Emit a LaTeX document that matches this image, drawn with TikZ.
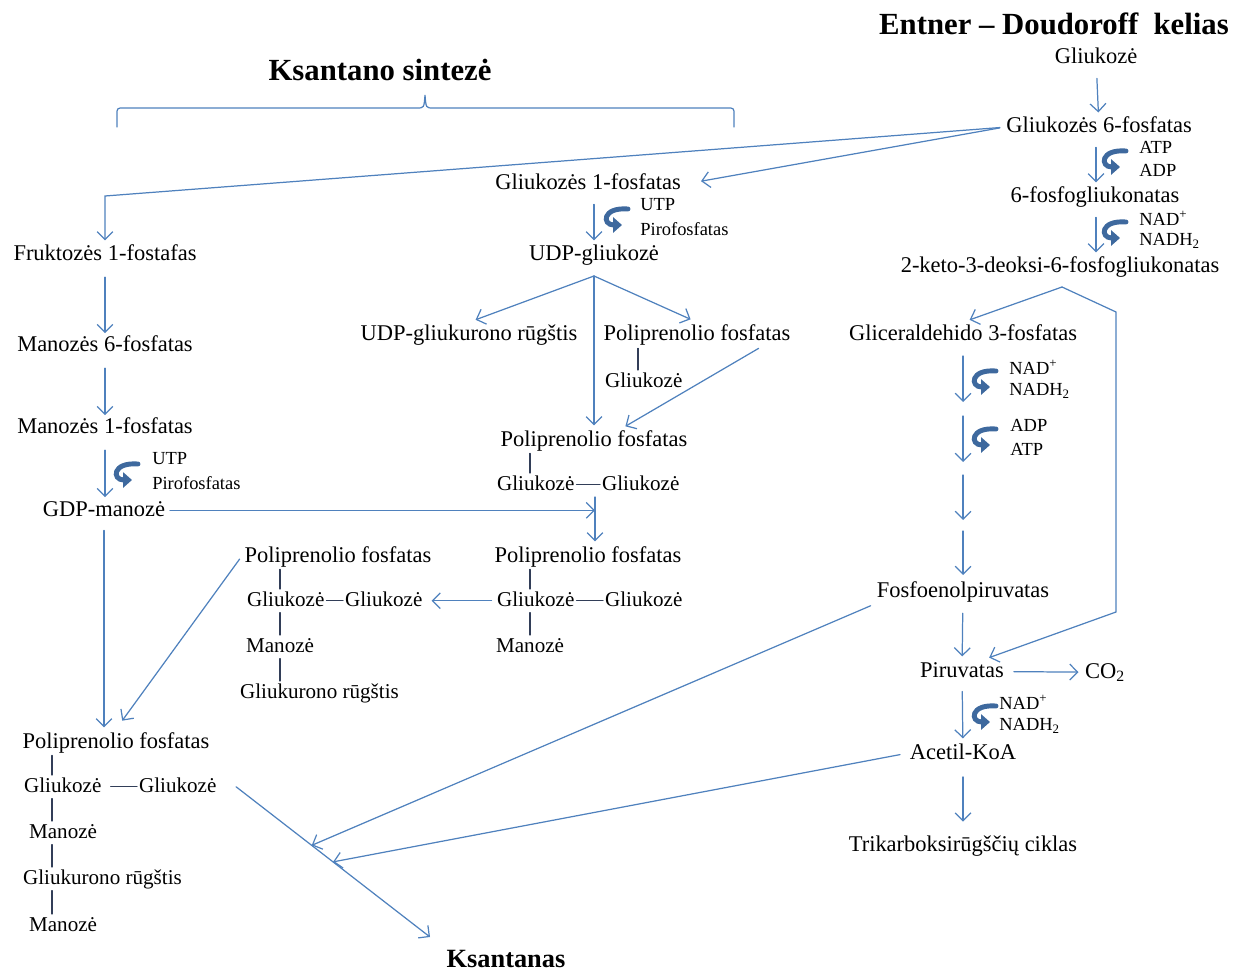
\documentclass[tikz,border=0pt]{standalone}
\usepackage{fontspec}
\setmainfont{Liberation Serif}
\usetikzlibrary{arrows.meta}
\definecolor{pathblue}{RGB}{79,129,189}
\definecolor{turnblue}{RGB}{62,105,158}
\definecolor{bondgray}{RGB}{50,62,88}
\begin{document}
\begin{tikzpicture}[x=0.02cm,y=-0.02cm,line cap=round,
  mn/.style={font=\fontsize{12.8}{15}\selectfont,inner sep=1.5pt,text height=9pt,text depth=2.5pt,yshift=-1.3pt},
  ch/.style={font=\fontsize{12}{14}\selectfont,inner sep=1pt,text height=8.5pt,text depth=2.5pt,anchor=west,yshift=-1pt},
  sm/.style={font=\fontsize{10.5}{12}\selectfont,inner sep=0pt,anchor=west},
  ttl/.style={font=\fontsize{17.5}{20}\bfseries\selectfont},
  arr/.style={draw=pathblue,line width=0.7pt,-{Straight Barb[length=4.5pt,width=9pt]},shorten <=4pt,shorten >=1pt},
  bond/.style={draw=bondgray,line width=0.6pt},
  brc/.style={draw=pathblue,line width=0.7pt},
  turn/.pic={\draw[turnblue,line width=2.8pt,-{Triangle[length=5pt,width=8.5pt]}] (11,-9) .. controls (-15,-11) and (-15,7) .. (5,7);}]
  \useasboundingbox (0,0) rectangle (1239,973);

  \node[ttl] (edt) at (1054,24) {Entner – Doudoroff~~kelias};
  \node[ttl] (kst) at (380,70) {Ksantano sintezė};
  \node[font=\fontsize{15}{18}\bfseries\selectfont,inner sep=1pt] (ksa) at (506,959) {Ksantanas};
  \draw[brc] (117,127) -- (117,115) .. controls (117,108) .. (124,108) -- (417,108)
    .. controls (424,108) .. (425,95) .. controls (426,108) .. (433,108) -- (727,108)
    .. controls (734,108) .. (734,115) -- (734,127);

  \node[mn] (glc) at (1096,56) {Gliukozė};
  \node[mn] (g6p) at (1099,125) {Gliukozės 6-fosfatas};
  \node[mn] (pg6) at (1095,195) {6-fosfogliukonatas};
  \node[mn] (kdpg) at (1060,265) {2-keto-3-deoksi-6-fosfogliukonatas};
  \node[mn] (gap) at (963,333) {Gliceraldehido 3-fosfatas};
  \node[mn] (pep) at (963,589) {Fosfoenolpiruvatas};
  \node[mn] (pyr) at (962,669) {Piruvatas};
  \node[mn] (co2) at (1105,670) {CO\textsubscript{2}};
  \node[mn] (aca) at (963,751) {Acetil-KoA};
  \node[mn] (tca) at (963,843) {Trikarboksirūgščių ciklas};

  \node[sm] (atp1) at (1139,147) {ATP};
  \node[sm] (adp1) at (1139,170) {ADP};
  \node[sm] (nad1) at (1139,218) {NAD\textsuperscript{+}};
  \node[sm] (nadh1) at (1139,241) {NADH\textsubscript{2}};
  \node[sm] (nad2) at (1009,367) {NAD\textsuperscript{+}};
  \node[sm] (nadh2) at (1009,391) {NADH\textsubscript{2}};
  \node[sm] (adp2) at (1010,425) {ADP};
  \node[sm] (atp2) at (1010,449) {ATP};
  \node[sm] (nad3) at (999,702) {NAD\textsuperscript{+}};
  \node[sm] (nadh3) at (999,726) {NADH\textsubscript{2}};
  \node[sm] (utp1) at (640,205) {UTP};
  \node[sm] (ppi1) at (640,229) {Pirofosfatas};
  \node[sm] (utp2) at (152,459) {UTP};
  \node[sm] (ppi2) at (152,483) {Pirofosfatas};
  \foreach \p in {(1115,160),(1115,231),(985,380),(985,438),(985,715),(617,218),(127,473)}
    \pic at \p {turn};

  \node[mn] (g1p) at (588,182) {Gliukozės 1-fosfatas};
  \node[mn] (udpg) at (594,253) {UDP-gliukozė};
  \node[mn] (udpga) at (469,333) {UDP-gliukurono rūgštis};
  \node[mn] (pp1) at (697,333) {Poliprenolio fosfatas};
  \node[ch] (pp1a) at (603,380) {Gliukozė};
  \node[mn] (pp2) at (594,438) {Poliprenolio fosfatas};
  \node[ch] (pp2a) at (495,483) {Gliukozė};
  \node[ch] (pp2b) at (600,483) {Gliukozė};
  \node[mn] (pp3) at (588,554) {Poliprenolio fosfatas};
  \node[ch] (pp3a) at (495,599) {Gliukozė};
  \node[ch] (pp3b) at (603,599) {Gliukozė};
  \node[ch] (pp3m) at (494,645) {Manozė};
  \node[mn] (pp4) at (338,554) {Poliprenolio fosfatas};
  \node[ch] (pp4a) at (245,599) {Gliukozė};
  \node[ch] (pp4b) at (343,599) {Gliukozė};
  \node[ch] (pp4m) at (244,645) {Manozė};
  \node[ch] (pp4u) at (238,691) {Gliukurono rūgštis};

  \node[mn] (fru) at (105,253) {Fruktozės 1-fostafas};
  \node[mn] (m6p) at (105,344) {Manozės 6-fosfatas};
  \node[mn] (m1p) at (105,426) {Manozės 1-fosfatas};
  \node[mn] (gdpm) at (104,508) {GDP-manozė};
  \node[mn] (pp5) at (116,740) {Poliprenolio fosfatas};
  \node[ch] (pp5a) at (22,785) {Gliukozė};
  \node[ch] (pp5b) at (137,785) {Gliukozė};
  \node[ch] (pp5m) at (27,831) {Manozė};
  \node[ch] (pp5u) at (21,877) {Gliukurono rūgštis};
  \node[ch] (pp5n) at (27,924) {Manozė};

  \coordinate (sp1) at (638,0);
  \coordinate (sp2) at (530,0);
  \coordinate (sp4) at (280,0);
  \coordinate (sp5) at (52,0);
  \draw[bond] (pp1.south -| sp1) -- (pp1a.north -| sp1);
  \draw[bond] (pp2.south -| sp2) -- (pp2a.north -| sp2);
  \draw[bond] (pp2a.east) -- (pp2b.west);
  \draw[bond] (pp3.south -| sp2) -- (pp3a.north -| sp2);
  \draw[bond] (pp3a.east) -- (pp3b.west);
  \draw[bond] (pp3a.south -| sp2) -- (pp3m.north -| sp2);
  \draw[bond] (pp4.south -| sp4) -- (pp4a.north -| sp4);
  \draw[bond] (pp4a.east) -- (pp4b.west);
  \draw[bond] (pp4a.south -| sp4) -- (pp4m.north -| sp4);
  \draw[bond] (pp4m.south -| sp4) -- (pp4u.north -| sp4);
  \draw[bond] (pp5.south -| sp5) -- (pp5a.north -| sp5);
  \draw[bond,shorten <=4pt] (pp5a.east) -- (pp5b.west);
  \draw[bond] (pp5a.south -| sp5) -- (pp5m.north -| sp5);
  \draw[bond] (pp5m.south -| sp5) -- (pp5u.north -| sp5);
  \draw[bond] (pp5u.south -| sp5) -- (pp5n.north -| sp5);

  \draw[arr] (glc) -- (g6p);
  \draw[arr] (g6p.south -| glc) -- (pg6.north -| glc);
  \draw[arr] (pg6.south -| glc) -- (kdpg.north -| glc);
  \coordinate (kb) at (1062,287);
  \coordinate (kr) at (1116,312);
  \coordinate (kd) at (1116,612);
  \draw[arr,shorten <=0pt,shorten >=4pt] (kb) -- (gap.north);
  \draw[arr,shorten <=0pt] (kb) -- (kr) -- (kd) -- ([xshift=-11pt]pyr.north east);
  \foreach \a/\b [count=\n] in {356/402,416/462,475/520,531/575} {
    \coordinate (gs\n) at (963,\a);
    \coordinate (ge\n) at (963,\b);
    \draw[arr,shorten <=0pt,shorten >=0pt] (gs\n) -- (ge\n);
  }
  \draw[arr,shorten <=5pt] (pep) -- (pyr);
  \draw[arr,shorten <=4pt,shorten >=2pt] (pyr) -- (co2);
  \draw[arr] (pyr) -- (aca);
  \draw[arr,shorten <=6pt,shorten >=6pt] (aca) -- (tca);

  \draw[arr,shorten <=2pt,shorten >=10pt] (g6p.west) -- (g1p.east);
  \coordinate (fc) at (105,196);
  \draw[arr,shorten <=2pt] (g6p.west) -- (fc) -- (fru.north);
  \draw[arr] (g1p.south -| udpg) -- (udpg);
  \coordinate (ub) at (594,276);
  \draw[arr,shorten <=0pt,shorten >=4pt] (ub) -- (udpga.north);
  \draw[arr,shorten <=0pt,shorten >=4pt] (ub) -- (pp1.north);
  \draw[arr,shorten <=0pt] (ub) -- (pp2.north -| ub);
  \draw[arr,shorten <=0pt] (pp1.-12) -- ([xshift=17pt]pp2.north);
  \coordinate (jt) at (595,497);
  \draw[arr,shorten <=0pt] (jt) -- (jt |- pp3.north);
  \draw[arr,shorten <=1pt,shorten >=0pt] (gdpm) -- (jt |- gdpm);
  \draw[arr,shorten <=2pt,shorten >=4pt] (pp3a.west) -- (pp4b.east);
  \draw[arr,shorten <=2pt,shorten >=6pt] (pp4.west) -- (pp5.north);

  \draw[arr,shorten <=5pt,shorten >=0pt] (fru) -- (m6p);
  \draw[arr,shorten <=5pt,shorten >=0pt] (m6p) -- (m1p);
  \draw[arr,shorten <=5pt,shorten >=0pt] (m1p) -- (m1p |- gdpm.north);
  \draw[arr] (gdpm) -- (gdpm |- pp5.north);

  \coordinate (ks0) at ([xshift=10pt]pp5b.east);
  \coordinate (ks1) at (430,937);
  \draw[arr,shorten <=0pt,shorten >=0pt] (ks0) -- coordinate[pos=.39] (m1) coordinate[pos=.5] (m2) (ks1);
  \draw[arr,shorten <=2pt,shorten >=0pt] (pep.south west) -- (m1);
  \draw[arr,shorten <=4pt,shorten >=0pt] (aca.west) -- (m2);
\end{tikzpicture}
\end{document}
